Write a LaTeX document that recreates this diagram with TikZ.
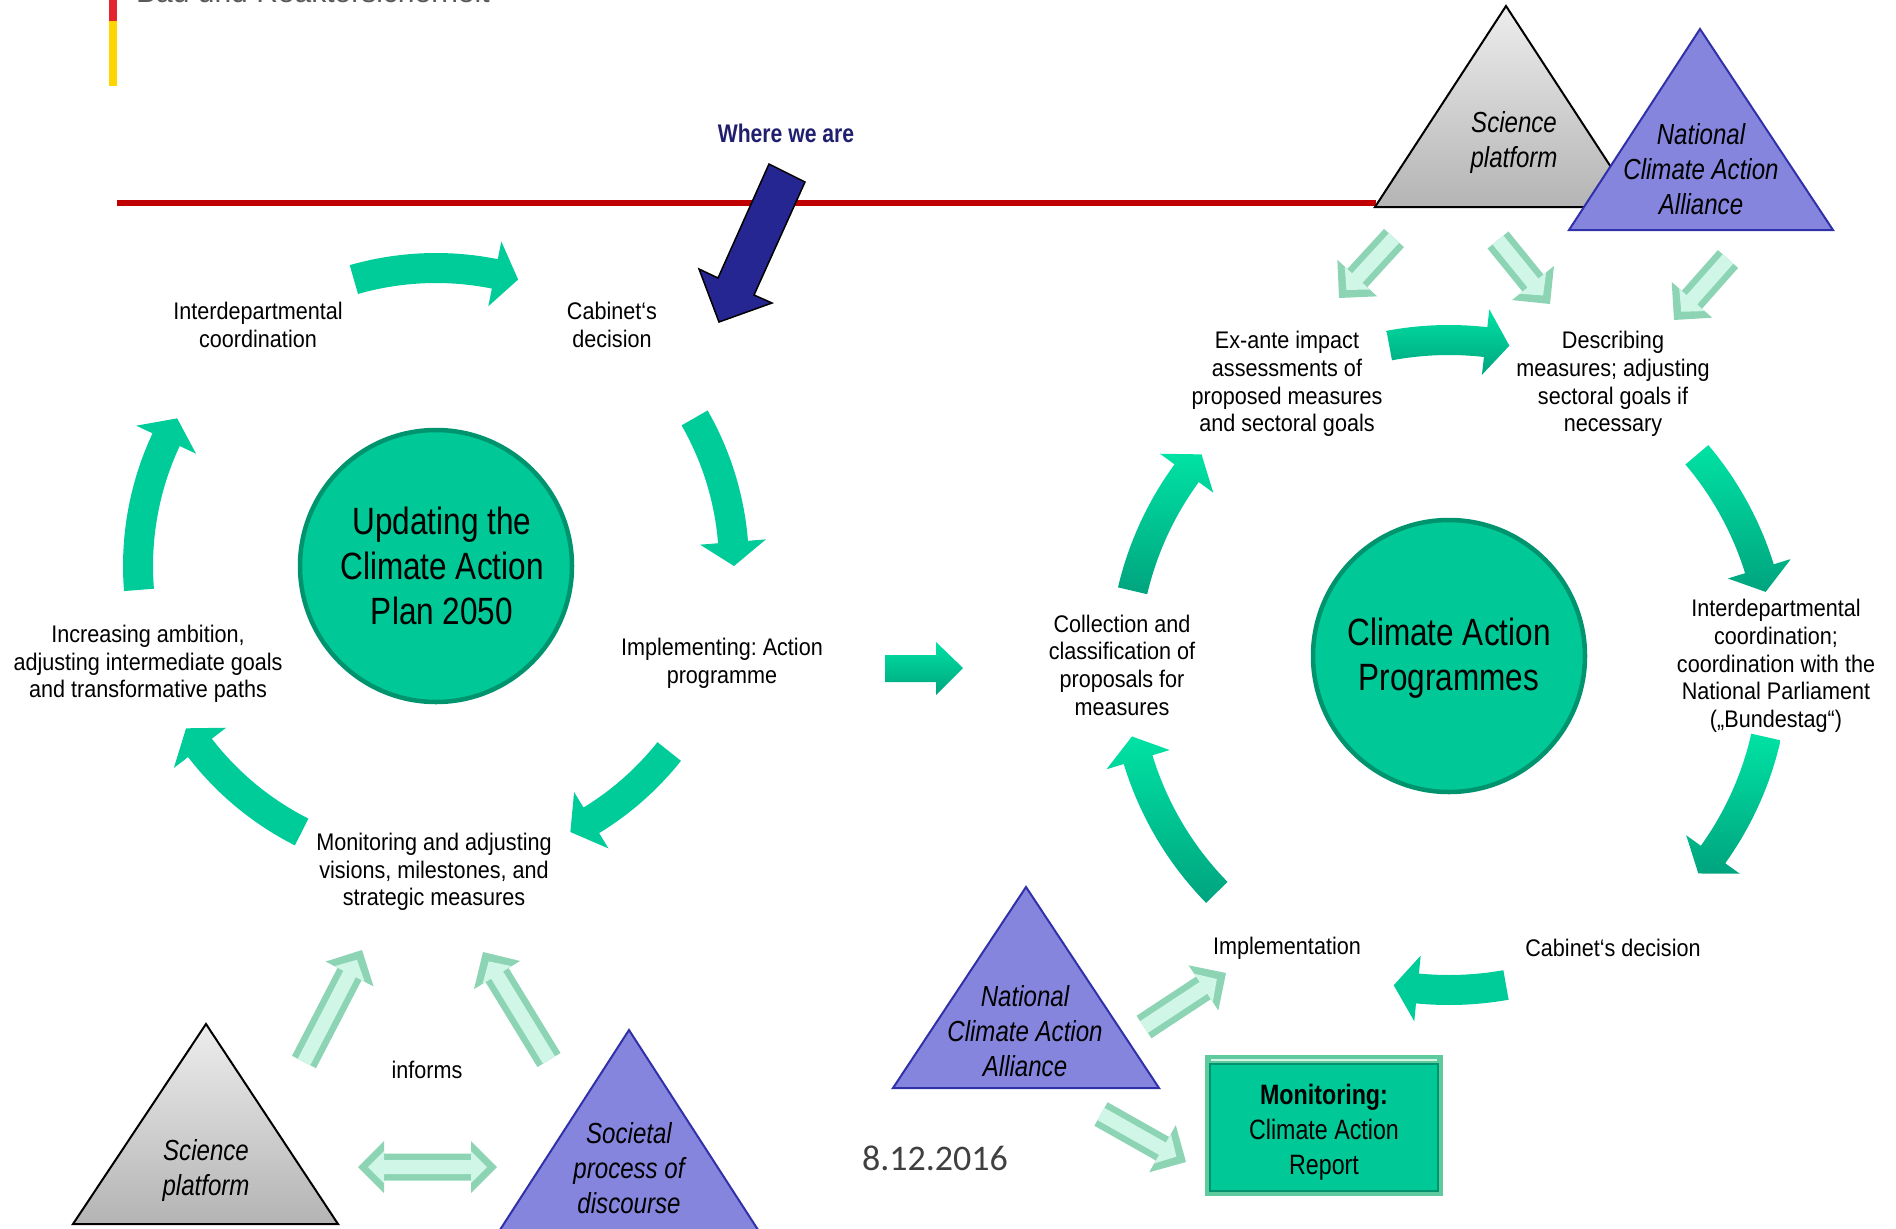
\documentclass[tikz,border=0pt]{standalone}
\usepackage{fontspec}
\setmainfont{Liberation Sans}
\newfontfamily\ringf{Liberation Sans}[FakeStretch=0.9]
\newfontfamily\narf{Liberation Sans}[FakeStretch=0.83]
\newfontfamily\datef{Carlito}
\usetikzlibrary{calc}
\frenchspacing
\definecolor{barred}{HTML}{E3262D}
\definecolor{baryel}{HTML}{FFD500}
\definecolor{linered}{HTML}{C00000}
\definecolor{navytxt}{HTML}{1F1F6E}
\definecolor{navyarrow}{HTML}{262693}
\definecolor{circfill}{HTML}{00C896}
\definecolor{circline}{HTML}{00946E}
\definecolor{ringA}{HTML}{00CC99}
\definecolor{ringTop}{HTML}{00E2A4}
\definecolor{ringBot}{HTML}{00A47E}
\definecolor{mintA}{HTML}{8CD4B4}
\definecolor{mintHi}{HTML}{CFF6E6}
\definecolor{grayTop}{HTML}{EDEDED}
\definecolor{grayBot}{HTML}{B4B4B4}
\definecolor{blueFill}{HTML}{8585DE}
\definecolor{blueLine}{HTML}{3030A8}
\definecolor{boxlight}{HTML}{5DCB9E}
\definecolor{boxline}{HTML}{00936D}
\definecolor{datecol}{HTML}{404040}
\definecolor{hdrgray}{HTML}{5A5A5A}
\newcommand\ringarrow[6]{%
  \pgfmathsetmacro\RAa{-(#5)}%
  \pgfmathsetmacro\RAt{-(#6)}%
  \pgfmathsetmacro\RAb{\RAt-24/(#4)*180/pi}%
  \pgfmathsetmacro\RAo{#4+15}%
  \pgfmathsetmacro\RAi{#4-15}%
  \pgfmathsetmacro\RHo{#4+33}%
  \pgfmathsetmacro\RHi{#4-33}%
  \path[#1] plot[domain=\RAa:\RAb,samples=30] ({#2+\RAo*cos(\x)},{#3+\RAo*sin(\x)})
    -- ({#2+\RHo*cos(\RAb)},{#3+\RHo*sin(\RAb)})
    -- ({#2+#4*cos(\RAt)},{#3+#4*sin(\RAt)})
    -- ({#2+\RHi*cos(\RAb)},{#3+\RHi*sin(\RAb)})
    -- plot[domain=\RAb:\RAa,samples=30] ({#2+\RAi*cos(\x)},{#3+\RAi*sin(\x)})
    -- cycle;
}
\newcommand\mintarrow[2]{%
  \coordinate (mA) at ($(#2)!27pt!(#1)$);
  \coordinate (mB) at ($(#2)!11pt!(#1)$);
  \fill[mintA] ($(#1)!13.5pt!90:(#2)$) -- ($(mA)!13.5pt!90:(#2)$) -- ($(mA)!27pt!90:(#2)$)
    -- (#2) -- ($(mA)!27pt!-90:(#2)$) -- ($(mA)!13.5pt!-90:(#2)$) -- ($(#1)!13.5pt!-90:(#2)$) -- cycle;
  \fill[mintHi] ($(#1)!7pt!90:(#2)$) -- ($(mA)!7pt!90:(#2)$) -- ($(mA)!17pt!90:(#2)$)
    -- (mB) -- ($(mA)!17pt!-90:(#2)$) -- ($(mA)!7pt!-90:(#2)$) -- ($(#1)!7pt!-90:(#2)$) -- cycle;
}
\tikzset{
  ringtxt/.style={font=\ringf\fontsize{24}{27.7}\selectfont, align=center, inner sep=0pt},
  circtxt/.style={font=\narf\fontsize{38}{45}\selectfont, align=center, inner sep=0pt},
  tritxt/.style={font=\narf\itshape\fontsize{29}{35}\selectfont, align=center, inner sep=0pt},
  boxtxt/.style={font=\narf\fontsize{28}{35}\selectfont, align=center, inner sep=0pt},
  lring/.style={fill=ringA},
  rring/.style={top color=ringTop, bottom color=ringBot},
  bigcirc/.style={circle, minimum size=272pt, fill=circfill, draw=circline, line width=4.5pt},
  graytri/.style={top color=grayTop, bottom color=grayBot, draw=black, line width=2pt, line join=miter},
  bluetri/.style={fill=blueFill, draw=blueLine, line width=2pt, line join=miter},
}
\begin{document}
\begin{tikzpicture}[x=1pt,y=-1pt]
\useasboundingbox (0,0) rectangle (1896,1229);
\fill[white] (0,0) rectangle (1896,1229);
\begin{scope}
\clip (0,0) rectangle (1896,1229);
% header bar and clipped header text
\fill[barred] (109,0) rectangle (117,21);
\fill[baryel] (109,21) rectangle (117,86);
\node[font=\fontsize{30}{34}\selectfont, text=hdrgray, anchor=base west, inner sep=0pt] (hdr) at (136,2.5) {Bau und Reaktorsicherheit};
% red time line
\fill[linered] (117,200) rectangle (1376,206);
% where we are
\node[font=\narf\bfseries\fontsize{25.5}{28}\selectfont, text=navytxt, anchor=base, inner sep=0pt] (where) at (786,142) {Where we are};
\draw[fill=navyarrow, draw=black, line width=1.5pt, line join=miter] (769,164) -- (805,182) -- (754,295) -- (772,303) -- (719,322) -- (699,269) -- (718,278) -- cycle;

% ---------- left cycle ----------
\node[bigcirc] (lcirc) at (436,566) {};
\node[circtxt] (lcirctxt) at (442,566) {Updating the\\Climate Action\\Plan 2050};
\node[ringtxt] (linter) at (258,325) {Interdepartmental\\coordination};
\node[ringtxt] (lcab) at (612,325) {Cabinet‘s\\decision};
\node[ringtxt] (limpl) at (722,663) {Implementing: Action\\programme};
\node[ringtxt] (lmon) at (434,872) {Monitoring and adjusting\\visions, milestones, and\\strategic measures};
\node[ringtxt] (lincr) at (148,664) {Increasing ambition,\\adjusting intermediate goals\\and transformative paths};
\ringarrow{lring}{436}{566}{298}{106}{74}
\ringarrow{lring}{436}{566}{298}{29.8}{0}
\ringarrow{lring}{436}{566}{298}{-38.5}{-63.2}
\ringarrow{lring}{436}{566}{298}{-116.8}{-147}
\ringarrow{lring}{436}{566}{298}{184.6}{150.3}

% inputs to left cycle
\node[ringtxt] (informs) at (427,1070) {informs};
\draw[graytri] (206,1024) -- (73,1224) -- (338,1224) -- cycle;
\node[tritxt] (lsci) at (206,1170) {Science\\platform};
\draw[bluetri] (629,1030) -- (496,1236) -- (762,1236) -- cycle;
\node[tritxt] (lsoc) at (629,1168) {Societal\\process of\\discourse};
\coordinate (s4a) at (304,1062); \coordinate (s4b) at (362,950);
\coordinate (s5a) at (549,1060); \coordinate (s5b) at (483,952);
\mintarrow{s4a}{s4b}
\mintarrow{s5a}{s5b}
\coordinate (dL) at (358,1167); \coordinate (dR) at (497,1167);
\coordinate (mL) at ($(dL)!26pt!(dR)$); \coordinate (mR) at ($(dR)!26pt!(dL)$);
\fill[mintA] (dL) -- ($(mL)!26pt!90:(dR)$) -- ($(mL)!13.5pt!90:(dR)$) -- ($(mR)!13.5pt!-90:(dL)$)
  -- ($(mR)!26pt!-90:(dL)$) -- (dR) -- ($(mR)!26pt!90:(dL)$) -- ($(mR)!13.5pt!90:(dL)$)
  -- ($(mL)!13.5pt!-90:(dR)$) -- ($(mL)!26pt!-90:(dR)$) -- cycle;
\fill[mintHi] ($(dL)!10pt!(dR)$) -- ($(mL)!16pt!90:(dR)$) -- ($(mL)!7pt!90:(dR)$) -- ($(mR)!7pt!-90:(dL)$)
  -- ($(mR)!16pt!-90:(dL)$) -- ($(dR)!10pt!(dL)$) -- ($(mR)!16pt!90:(dL)$) -- ($(mR)!7pt!90:(dL)$)
  -- ($(mL)!7pt!-90:(dR)$) -- ($(mL)!16pt!-90:(dR)$) -- cycle;

% transition arrow
\path[top color=ringTop, bottom color=ringBot] (885,655) -- (936,655) -- (936,642) -- (963,668) -- (936,695) -- (936,682) -- (885,682) -- cycle;

% ---------- right cycle ----------
\node[bigcirc] (rcirc) at (1449,656) {};
\node[circtxt] (rcirctxt) at (1449,658) {Climate Action\\Programmes};
\node[ringtxt] (rexante) at (1287,384) {Ex-ante impact\\assessments of\\proposed measures\\and sectoral goals};
\node[ringtxt] (rdesc) at (1613,384) {Describing\\measures; adjusting\\sectoral goals if\\necessary};
\node[ringtxt] (rinter) at (1776,666) {Interdepartmental\\coordination;\\coordination with the\\National Parliament\\(„Bundestag“)};
\node[ringtxt] (rcab) at (1613,948) {Cabinet‘s decision};
\node[ringtxt] (rimpl) at (1287,948) {Implementation};
\node[ringtxt] (rcoll) at (1122,665) {Collection and\\classification of\\proposals for\\measures};
\ringarrow{rring}{1449}{665}{325}{166.8}{139.6}
\ringarrow{rring}{1449}{665}{325}{100.6}{79.3}
\ringarrow{rring}{1449}{665}{325}{40.3}{13}
\ringarrow{rring}{1449}{665}{325}{-12.8}{-39.9}
\ringarrow{lring}{1449}{665}{325}{-79.9}{-99.8}
\ringarrow{rring}{1449}{665}{325}{-135.6}{-167.3}

% top right triangles
\draw[graytri] (1506,6) -- (1375,207) -- (1637,207) -- cycle;
\node[tritxt] (rsci) at (1514,142) {Science\\platform};
\draw[bluetri] (1700,29) -- (1569,230) -- (1833,230) -- cycle;
\node[tritxt] (ralli) at (1701,169) {National\\Climate Action\\Alliance};
\coordinate (s1a) at (1394,238); \coordinate (s1b) at (1339,298);
\coordinate (s2a) at (1498,240); \coordinate (s2b) at (1550,304);
\coordinate (s3a) at (1728,259); \coordinate (s3b) at (1674,320);
\mintarrow{s1a}{s1b}
\mintarrow{s2a}{s2b}
\mintarrow{s3a}{s3b}

% bottom right
\draw[bluetri] (1026,887) -- (893,1088) -- (1159,1088) -- cycle;
\node[tritxt] (balli) at (1025,1031) {National\\Climate Action\\Alliance};
\coordinate (s7a) at (1144,1027); \coordinate (s7b) at (1226,973);
\coordinate (s8a) at (1101,1114); \coordinate (s8b) at (1186,1162);
\mintarrow{s7a}{s7b}
\mintarrow{s8a}{s8b}
\fill[boxlight] (1205,1055) rectangle (1443,1196);
\draw[fill=circfill, draw=boxline, line width=2.5pt] (1210,1064) rectangle (1438,1191);
\draw[white!75!boxlight, line width=2pt] (1211,1060) -- (1437,1060);
\node[boxtxt] (report) at (1324,1132) {\textbf{Monitoring:}\\Climate Action\\Report};
\node[font=\datef\fontsize{36}{40}\selectfont, text=datecol, inner sep=0pt] (date) at (935,1158) {8.12.2016};
\end{scope}
\end{tikzpicture}
\end{document}
